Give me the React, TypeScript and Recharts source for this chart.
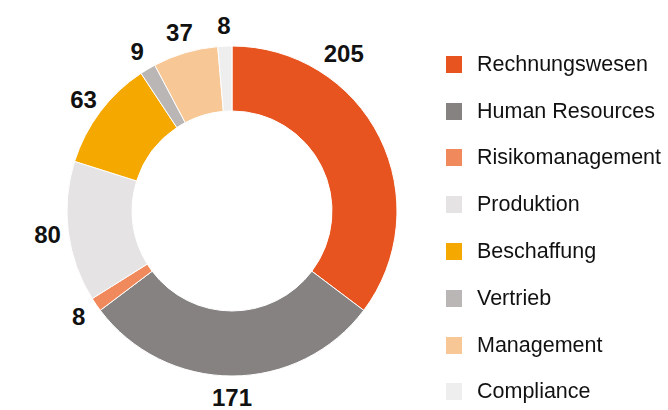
import { PieChart, Pie, Cell } from 'recharts';

const DEPARTMENTS = [
  'Rechnungswesen',
  'Human Resources',
  'Risikomanagement',
  'Produktion',
  'Beschaffung',
  'Vertrieb',
  'Management',
  'Compliance',
];
const COUNTS = [205, 171, 8, 80, 63, 9, 37, 8];
const COLORS = ['#E8541F', '#868281', '#F08A5C', '#E5E3E4', '#F4A800', '#BAB6B5', '#F7C795', '#EEEEEE'];

const data = DEPARTMENTS.map((name, i) => ({ name, value: COUNTS[i] }));

const FONT = '"Liberation Sans", Arial, Helvetica, sans-serif';
const RADIAN = Math.PI / 180;

// the big first slice gets its label nudged up so it stays clear of the legend
const LABEL_ANGLE: Record<number, number> = { 0: 54.6 };

function renderLabel(props: any) {
  const { cx, cy, midAngle, outerRadius, value, index } = props;
  const angle = LABEL_ANGLE[index] ?? midAngle;
  const r = outerRadius + (index in LABEL_ANGLE ? 28 : 21);
  const x = cx + r * Math.cos(-angle * RADIAN);
  const y = cy + r * Math.sin(-angle * RADIAN);
  return (
    <text
      x={x}
      y={y}
      textAnchor="middle"
      dominantBaseline="central"
      fill="#111"
      fontFamily={FONT}
      fontWeight="bold"
      fontSize={24}
    >
      {value}
    </text>
  );
}

function DepartmentLegend() {
  return (
    <div style={{ position: 'absolute', left: 446, top: 41, width: 222, fontFamily: FONT }}>
      {data.map((d, i) => (
        <div key={d.name} style={{ display: 'flex', alignItems: 'center', height: 46.8 }}>
          <span style={{ width: 16, height: 17, background: COLORS[i], marginRight: 15, flexShrink: 0 }} />
          <span style={{ fontSize: 21.5, color: '#111', whiteSpace: 'nowrap' }}>{d.name}</span>
        </div>
      ))}
    </div>
  );
}

export default function App() {
  return (
    <div style={{ position: 'fixed', left: 0, top: 0, width: 668, height: 410, background: '#fff' }}>
      <PieChart width={668} height={410} margin={{ top: 0, right: 0, bottom: 0, left: 0 }}>
        <Pie
          data={data}
          dataKey="value"
          nameKey="name"
          cx={232}
          cy={211}
          innerRadius={100}
          outerRadius={165}
          startAngle={90}
          endAngle={-270}
          stroke="#fff"
          strokeWidth={1}
          label={renderLabel}
          labelLine={false}
          isAnimationActive={false}
        >
          {data.map((d, i) => (
            <Cell key={d.name} fill={COLORS[i]} />
          ))}
        </Pie>
      </PieChart>
      <DepartmentLegend />
    </div>
  );
}
